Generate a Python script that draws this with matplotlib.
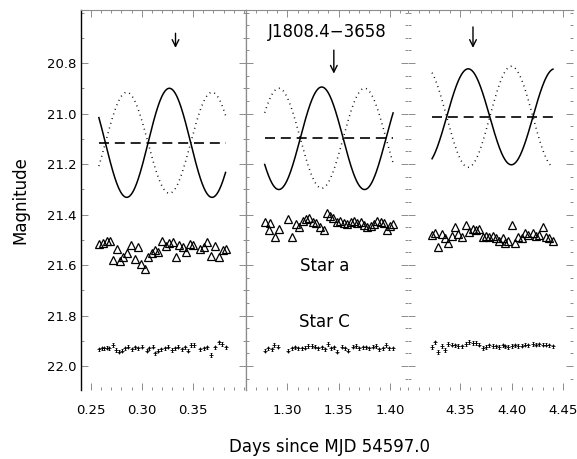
import numpy as np
import matplotlib
matplotlib.use('Agg')
import matplotlib.pyplot as plt
import matplotlib.ticker as tic

# ---- data ----
# x ranges of the three broken-axis panels (days since MJD 54597.0)
panel_xlim = [(0.2405, 0.402), (1.2598, 1.4175), (4.2997, 4.4594)]
panel_xticks = [[0.25, 0.30, 0.35], [1.30, 1.35, 1.40], [4.35, 4.40, 4.45]]
panel_xticklabels = [['0.25', '0.30', '0.35'], ['1.30', '1.35', '1.40'], ['4.35', '4.40', '4.45']]
yticks = [20.8, 21.0, 21.2, 21.4, 21.6, 21.8, 22.0]

# sinusoid model of J1808.4-3658 in each panel (start, end, mean mag, solid amp,
# dotted amp, time of maximum light)
model_start = [0.258, 1.278, 4.323]
model_end = [0.382, 1.403, 4.440]
model_mean = [21.116, 21.098, 21.013]
model_amp = [0.216, 0.203, 0.190]
model_amp_dot = [0.200, 0.198, 0.200]
model_tmax = [0.3270, 1.3335, 4.3580]
model_period = 0.0835

# arrows (x, top mag, tip mag)
arrow_x = [0.333, 1.3453, 4.3626]
arrow_top = [20.682, 20.749, 20.657]
arrow_tip = [20.740, 20.842, 20.740]

# Star a (triangles)
stara_t1 = [0.2584, 0.2624, 0.2657, 0.2689, 0.2722, 0.2755, 0.2787, 0.2820, 0.2853,
            0.2892, 0.2931, 0.2967, 0.2996, 0.3029, 0.3065, 0.3098, 0.3130, 0.3163,
            0.3202, 0.3238, 0.3271, 0.3304, 0.3336, 0.3369, 0.3402, 0.3434, 0.3473,
            0.3506, 0.3565, 0.3611, 0.3643, 0.3676, 0.3719, 0.3751, 0.3794, 0.3826]
stara_m1 = [21.517, 21.512, 21.504, 21.504, 21.580, 21.538, 21.583, 21.570, 21.554,
            21.521, 21.578, 21.527, 21.597, 21.617, 21.570, 21.554, 21.541, 21.547,
            21.504, 21.525, 21.514, 21.508, 21.570, 21.521, 21.530, 21.547, 21.517,
            21.521, 21.538, 21.527, 21.508, 21.564, 21.525, 21.570, 21.541, 21.538]
stara_t2 = [1.2783, 1.2825, 1.2832, 1.2880, 1.2922, 1.3010, 1.3043, 1.3085, 1.3117,
            1.3150, 1.3182, 1.3214, 1.3247, 1.3279, 1.3318, 1.3357, 1.3383, 1.3416,
            1.3448, 1.3481, 1.3513, 1.3552, 1.3584, 1.3617, 1.3649, 1.3682, 1.3714,
            1.3747, 1.3779, 1.3812, 1.3844, 1.3870, 1.3909, 1.3942, 1.3968, 1.4000,
            1.4032]
stara_m2 = [21.428, 21.461, 21.432, 21.488, 21.459, 21.419, 21.490, 21.437, 21.448,
            21.424, 21.419, 21.415, 21.428, 21.432, 21.448, 21.461, 21.395, 21.406,
            21.415, 21.428, 21.424, 21.432, 21.437, 21.428, 21.424, 21.432, 21.428,
            21.441, 21.448, 21.446, 21.437, 21.424, 21.428, 21.432, 21.461, 21.446,
            21.437]
stara_t3 = [4.3226, 4.3258, 4.3290, 4.3323, 4.3355, 4.3387, 4.3420, 4.3452, 4.3484,
            4.3516, 4.3558, 4.3590, 4.3623, 4.3655, 4.3687, 4.3720, 4.3752, 4.3784,
            4.3816, 4.3849, 4.3881, 4.3913, 4.3939, 4.3968, 4.4000, 4.4032, 4.4065,
            4.4097, 4.4129, 4.4161, 4.4204, 4.4236, 4.4268, 4.4301, 4.4333, 4.4365,
            4.4397]
stara_m3 = [21.481, 21.472, 21.530, 21.477, 21.494, 21.512, 21.485, 21.451, 21.477,
            21.488, 21.442, 21.468, 21.459, 21.461, 21.459, 21.490, 21.485, 21.490,
            21.485, 21.494, 21.504, 21.494, 21.514, 21.504, 21.442, 21.514, 21.490,
            21.494, 21.472, 21.481, 21.472, 21.485, 21.481, 21.451, 21.490, 21.494,
            21.504]

# Star C (small points with error bars)
starc_t1 = [0.2584, 0.2607, 0.2630, 0.2656, 0.2682, 0.2715, 0.2748, 0.2774, 0.2803,
            0.2836, 0.2869, 0.2902, 0.2934, 0.2967, 0.3000, 0.3049, 0.3075, 0.3107,
            0.3130, 0.3163, 0.3189, 0.3228, 0.3261, 0.3294, 0.3327, 0.3359, 0.3392,
            0.3425, 0.3451, 0.3480, 0.3513, 0.3572, 0.3611, 0.3637, 0.3676, 0.3719,
            0.3751, 0.3784, 0.3826]
starc_m1 = [21.934, 21.930, 21.930, 21.927, 21.930, 21.917, 21.937, 21.943, 21.939,
            21.930, 21.923, 21.934, 21.926, 21.930, 21.923, 21.939, 21.930, 21.923,
            21.950, 21.939, 21.934, 21.930, 21.923, 21.937, 21.930, 21.923, 21.934,
            21.926, 21.939, 21.917, 21.917, 21.934, 21.930, 21.926, 21.956, 21.926,
            21.906, 21.913, 21.926]
starc_t2 = [1.2783, 1.2815, 1.2848, 1.2870, 1.2912, 1.3010, 1.3043, 1.3075, 1.3107,
            1.3140, 1.3172, 1.3204, 1.3238, 1.3270, 1.3302, 1.3335, 1.3367, 1.3393,
            1.3423, 1.3455, 1.3487, 1.3530, 1.3562, 1.3594, 1.3637, 1.3669, 1.3701,
            1.3734, 1.3766, 1.3798, 1.3831, 1.3863, 1.3895, 1.3929, 1.3961, 1.3993,
            1.4026]
starc_m2 = [21.939, 21.930, 21.934, 21.917, 21.923, 21.939, 21.930, 21.926, 21.930,
            21.930, 21.927, 21.920, 21.920, 21.923, 21.930, 21.926, 21.934, 21.913,
            21.930, 21.926, 21.943, 21.923, 21.930, 21.939, 21.923, 21.920, 21.930,
            21.926, 21.926, 21.930, 21.923, 21.920, 21.934, 21.930, 21.917, 21.930,
            21.930]
starc_t3 = [4.3226, 4.3258, 4.3290, 4.3323, 4.3355, 4.3387, 4.3420, 4.3452, 4.3484,
            4.3516, 4.3558, 4.3590, 4.3623, 4.3655, 4.3687, 4.3720, 4.3752, 4.3784,
            4.3816, 4.3849, 4.3881, 4.3913, 4.3939, 4.3968, 4.4000, 4.4032, 4.4065,
            4.4097, 4.4129, 4.4161, 4.4204, 4.4236, 4.4268, 4.4301, 4.4333, 4.4365,
            4.4397]
starc_m3 = [21.925, 21.906, 21.945, 21.921, 21.936, 21.912, 21.915, 21.918, 21.920,
            21.922, 21.912, 21.905, 21.908, 21.909, 21.915, 21.928, 21.925, 21.918,
            21.920, 21.922, 21.925, 21.918, 21.922, 21.925, 21.920, 21.918, 21.920,
            21.919, 21.915, 21.918, 21.913, 21.915, 21.914, 21.915, 21.915, 21.918,
            21.922]

stara_t = [stara_t1, stara_t2, stara_t3]
stara_m = [stara_m1, stara_m2, stara_m3]
starc_t = [starc_t1, starc_t2, starc_t3]
starc_m = [starc_m1, starc_m2, starc_m3]

ylim = (22.095, 20.59)

# ---- figure ----
W, H = 577, 459
fig = plt.figure(figsize=(W / 100, H / 100), dpi=100)
plt.rcParams['font.family'] = ['DejaVu Sans']

edges = [81, 246, 408, 573]
top_px, bot_px = 10, 390
gray = '0.55'

axes = []
for p in range(3):
    x0 = edges[p] / W
    w = (edges[p + 1] - edges[p]) / W
    ax = fig.add_axes([x0, 1 - bot_px / H, w, (bot_px - top_px) / H])
    axes.append(ax)

    # model curves
    t = np.linspace(model_start[p], model_end[p], 300)
    ph = 2 * np.pi * (t - model_tmax[p]) / model_period
    ax.plot(t, model_mean[p] - model_amp[p] * np.cos(ph), color='k', lw=1.1)
    ax.plot(t, model_mean[p] + model_amp_dot[p] * np.cos(ph), color='k', lw=1.1,
            linestyle=(0, (0.6, 2.6)))
    ax.plot([model_start[p], model_end[p]], [model_mean[p], model_mean[p]],
            color='k', lw=1.2, linestyle=(0, (6, 3.5)))

    # comparison stars
    ax.plot(stara_t[p], stara_m[p], linestyle='none', marker='^', ms=6,
            mfc='none', mec='k', mew=0.9)
    ax.errorbar(starc_t[p], starc_m[p], yerr=0.007, fmt='+', ms=3, color='k',
                elinewidth=0.6, mew=0.6, capsize=0.8, capthick=0.6)

    ax.annotate('', xy=(arrow_x[p], arrow_tip[p]), xytext=(arrow_x[p], arrow_top[p]),
                arrowprops=dict(arrowstyle='->', color='k', lw=1.0,
                                mutation_scale=12, shrinkA=0, shrinkB=0))

    ax.set_xlim(panel_xlim[p])
    ax.set_ylim(ylim)
    ax.set_xticks(panel_xticks[p])
    ax.set_xticklabels(panel_xticklabels[p], fontsize=9.5)
    ax.xaxis.set_minor_locator(tic.MultipleLocator(0.01))
    ax.set_yticks(yticks)
    if p == 0:
        ax.yaxis.set_minor_locator(tic.MultipleLocator(0.1))
        ax.set_yticklabels(['%.1f' % v for v in yticks], fontsize=9.5)
    else:
        ax.yaxis.set_minor_locator(tic.MultipleLocator(0.05))
        ax.tick_params(axis='y', labelleft=False)
    ax.tick_params(which='both', direction='in', top=True, right=True,
                   color=gray, width=0.7)
    ax.tick_params(which='major', length=5)
    ax.tick_params(which='minor', length=2)
    ax.tick_params(axis='x', pad=10)

    ax.spines['bottom'].set_visible(False)
    ax.spines['top'].set_color(gray)
    ax.spines['top'].set_linewidth(0.8)
    for side in ['left', 'right']:
        ax.spines[side].set_color(gray)
        ax.spines[side].set_linewidth(0.9)
    if p == 0:
        ax.spines['left'].set_color('k')
        ax.spines['left'].set_linewidth(1.0)
    if p >= 1:
        ax.spines['right'].set_visible(False)
    if p == 2:
        ax.spines['left'].set_visible(False)

axes[1].text(1.3388, 20.677, 'J1808.4\u22123658', fontsize=12, ha='center', va='center')
axes[1].text(1.336, 21.604, 'Star a', fontsize=12, ha='center', va='center')
axes[1].text(1.336, 21.826, 'Star C', fontsize=12, ha='center', va='center')

fig.text(20 / W, 1 - 200 / H, 'Magnitude', rotation=90, fontsize=12,
         ha='center', va='center')
fig.text(330 / W, 1 - 447 / H, 'Days since MJD 54597.0', fontsize=12,
         ha='center', va='center')

fig.savefig('out.png', dpi=100)
